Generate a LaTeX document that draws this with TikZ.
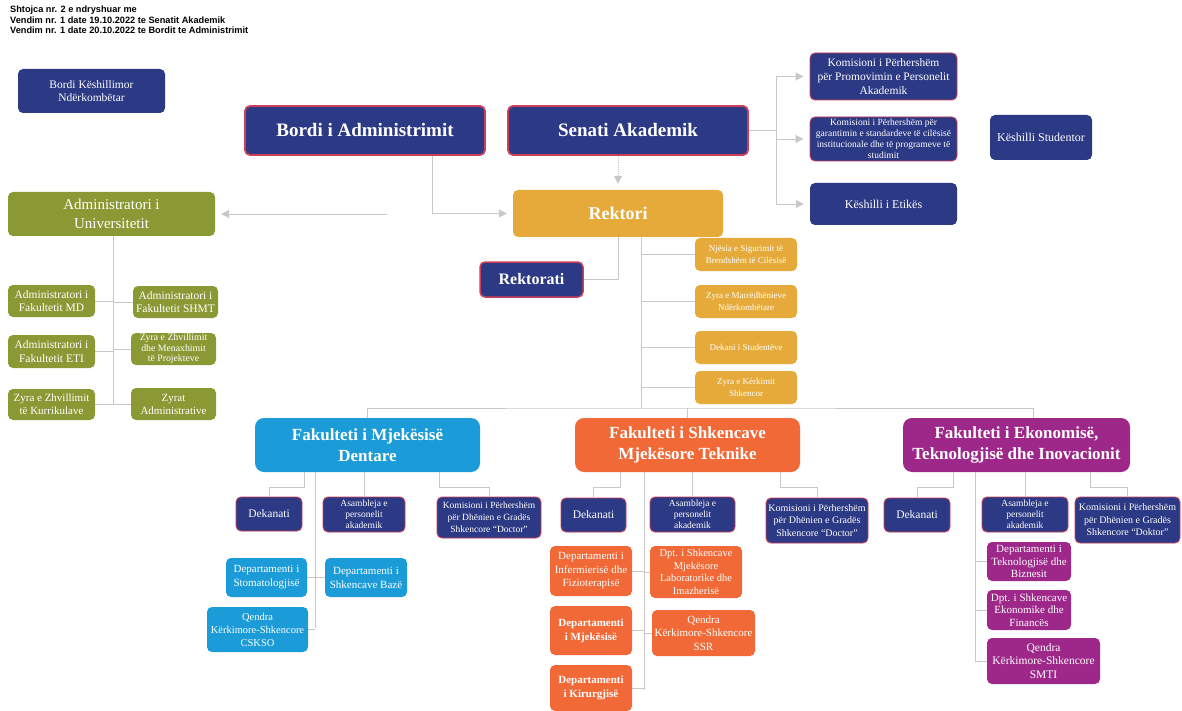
\documentclass[tikz,border=0pt]{standalone}
\usepackage{fontspec}
\setmainfont{Liberation Serif}
\newfontfamily\headfont{Liberation Sans}
\usetikzlibrary{arrows.meta}

\definecolor{navyblue}{RGB}{44,57,132}
\definecolor{borderred}{RGB}{205,62,88}
\definecolor{olivegreen}{RGB}{139,153,53}
\definecolor{rektoryellow}{RGB}{229,170,57}
\definecolor{dentblue}{RGB}{27,155,215}
\definecolor{techorange}{RGB}{240,105,55}
\definecolor{ecopurple}{RGB}{158,40,138}
\definecolor{linegray}{RGB}{200,200,200}

\newcommand{\fsz}[2]{\fontsize{#1}{#2}\selectfont}

\tikzset{
    unit/.style={rounded corners=5pt, align=center, text=white, inner sep=0pt},
    boxwh/.style 2 args={minimum width=#1pt, minimum height=#2pt},
    navybox/.style={unit, fill=navyblue},
    navyred/.style={navybox, draw=borderred, line width=0.9pt},
    topbox/.style={navybox, draw=borderred, line width=1.8pt, font=\bfseries\fsz{19}{22}},
    admbox/.style={unit, fill=olivegreen},
    rekbox/.style={unit, fill=rektoryellow},
    dentbox/.style={unit, fill=dentblue},
    techbox/.style={unit, fill=techorange},
    ecobox/.style={unit, fill=ecopurple},
    factitle/.style={rounded corners=9pt, font=\bfseries\fsz{17}{21}},
    conn/.style={draw=linegray, line width=0.9pt},
    arr/.style={conn, -{Triangle[length=8pt, width=8pt]}, shorten >=6pt}
}

\begin{document}
\begin{tikzpicture}[x=1pt, y=-1pt]
    \useasboundingbox (0,0) rectangle (1182,711);
    \fill[white] (0,0) rectangle (1182,711);

    \node[anchor=north west, align=left, inner sep=0pt, font=\headfont\bfseries\fsz{9.2}{10.2}] (header) at (10,6)
        {Shtojca nr. 2 e ndryshuar me\\Vendim nr. 1 date 19.10.2022 te Senatit Akademik\\Vendim nr. 1 date 20.10.2022 te Bordit te Administrimit};

    % governing bodies
    \node[navybox, boxwh={147}{44}, font=\fsz{11.5}{12.5}] (bke) at (91.5,91) {Bordi Këshillimor\\Ndërkombëtar};
    \node[topbox, boxwh={240}{49}] (bordi) at (365,130.5) {Bordi i Administrimit};
    \node[topbox, boxwh={240}{49}] (senati) at (628,130.5) {Senati Akademik};
    \node[navyred, boxwh={147}{47}, font=\fsz{11.5}{14}] (kom1) at (883.5,76.5) {Komisioni i Përhershëm\\për Promovimin e Personelit\\Akademik};
    \node[navyred, boxwh={147}{44}, font=\fsz{9.5}{11}] (kom2) at (883.5,139) {Komisioni i Përhershëm për\\garantimin e standardeve të cilësisë\\institucionale dhe të programeve të\\studimit};
    \node[navybox, boxwh={147}{42}, font=\fsz{12}{14}] (etika) at (883.5,204) {Këshilli i Etikës};
    \node[navybox, boxwh={102}{45}, font=\fsz{12}{14}] (studentor) at (1041,137.5) {Këshilli Studentor};

    % rector
    \node[rekbox, boxwh={210}{47}, font=\bfseries\fsz{18}{20}] (rek) at (618,213.5) {Rektori};
    \node[navybox, draw=borderred, line width=1.5pt, boxwh={103}{35}, font=\bfseries\fsz{16}{18}] (rektorati) at (531.5,279.5) {Rektorati};
    \node[rekbox, boxwh={102}{33}, font=\fsz{9}{11.5}] (nj) at (746,254.5) {Njësia e Sigurimit të\\Brendshëm të Cilësisë};
    \node[rekbox, boxwh={102}{33}, font=\fsz{9}{11.5}] (zmn) at (746,301.5) {Zyra e Marrëdhënieve\\Ndërkombëtare};
    \node[rekbox, boxwh={102}{33}, font=\fsz{9}{11.5}] (dst) at (746,347.5) {Dekani i Studentëve};
    \node[rekbox, boxwh={102}{33}, font=\fsz{9}{11.5}] (zks) at (746,387.5) {Zyra e Kërkimit\\Shkencor};

    % administrator
    \node[admbox, boxwh={207}{44}, font=\fsz{15}{19}] (adm) at (111.5,214) {Administratori i\\Universitetit};
    \node[admbox, boxwh={87}{32}, font=\fsz{11.5}{13.5}] (amd) at (51.5,301) {Administratori i\\Fakultetit MD};
    \node[admbox, boxwh={85}{32}, font=\fsz{11.5}{13.5}] (ashmt) at (175.5,302) {Administratori i\\Fakultetit SHMT};
    \node[admbox, boxwh={87}{33}, font=\fsz{11.5}{13.5}] (aeti) at (51.5,351.5) {Administratori i\\Fakultetit ETI};
    \node[admbox, boxwh={85}{32}, font=\fsz{9.8}{10.5}] (zzmp) at (173.5,349) {Zyra e Zhvillimit\\dhe Menaxhimit\\të Projekteve};
    \node[admbox, boxwh={87}{31}, font=\fsz{11}{13}] (zzk) at (51.5,404.5) {Zyra e Zhvillimit\\të Kurrikulave};
    \node[admbox, boxwh={85}{32}, font=\fsz{11}{13}] (zadm) at (173.5,404) {Zyrat\\Administrative};

    % faculties
    \node[dentbox, factitle, boxwh={225}{54}] (fmd) at (367.5,445) {Fakulteti i Mjekësisë\\Dentare};
    \node[techbox, factitle, boxwh={225}{54}] (fshmt) at (687.5,445) {Fakulteti i Shkencave\\Mjekësore Teknike};
    \node[ecobox, factitle, boxwh={227}{54}] (feti) at (1016.5,445) {Fakulteti i Ekonomisë,\\Teknologjisë dhe Inovacionit};

    \node[navyred, boxwh={66}{34}, font=\fsz{11.5}{13}] (mdDek) at (269,514) {Dekanati};
    \node[navyred, boxwh={82}{35}, font=\fsz{9.5}{11}] (mdAs) at (364,514.5) {Asambleja e\\personelit\\akademik};
    \node[navyred, boxwh={104}{41}, font=\fsz{9.5}{12}] (mdKom) at (489,517.5) {Komisioni i Përhershëm\\për Dhënien e Gradës\\Shkencore ``Doctor''};
    \node[dentbox, boxwh={81}{39}, font=\fsz{11}{14}] (mdStom) at (266.5,577.5) {Departamenti i\\Stomatologjisë};
    \node[dentbox, boxwh={82}{39}, font=\fsz{11}{14}] (mdBaze) at (366,577.5) {Departamenti i\\Shkencave Bazë};
    \node[dentbox, boxwh={101}{45}, font=\fsz{10.5}{13}] (mdQ) at (257.5,629.5) {Qendra\\Kërkimore-Shkencore\\CSKSO};

    \node[navyred, boxwh={65}{34}, font=\fsz{11.5}{13}] (shDek) at (593.5,515) {Dekanati};
    \node[navyred, boxwh={85}{35}, font=\fsz{9.5}{11}] (shAs) at (692.5,514.5) {Asambleja e\\personelit\\akademik};
    \node[navyred, boxwh={102}{45}, font=\fsz{10}{12.5}] (shKom) at (817,520.5) {Komisioni i Përhershëm\\për Dhënien e Gradës\\Shkencore ``Doctor''};
    \node[techbox, boxwh={82}{50}, font=\fsz{11}{13.5}] (shInf) at (591,571) {Departamenti i\\Infermierisë dhe\\Fizioterapisë};
    \node[techbox, boxwh={92}{52}, font=\fsz{10.5}{12.5}] (shLab) at (696,572) {Dpt. i Shkencave\\Mjekësore\\Laboratorike dhe\\Imazherisë};
    \node[techbox, boxwh={82}{49}, font=\bfseries\fsz{11}{14}] (shMj) at (591,630.5) {Departamenti\\i Mjekësisë};
    \node[techbox, boxwh={103}{46}, font=\fsz{11}{13.5}] (shQ) at (703.5,633) {Qendra\\Kërkimore-Shkencore\\SSR};
    \node[techbox, boxwh={82}{46}, font=\bfseries\fsz{11}{14}] (shKir) at (591,688) {Departamenti\\i Kirurgjisë};

    \node[navyred, boxwh={66}{34}, font=\fsz{11.5}{13}] (etDek) at (917,515) {Dekanati};
    \node[navyred, boxwh={86}{35}, font=\fsz{9.5}{11}] (etAs) at (1025,514.5) {Asambleja e\\personelit\\akademik};
    \node[navyred, boxwh={105}{46}, font=\fsz{10}{12.5}] (etKom) at (1127.5,520) {Komisioni i Përhershëm\\për Dhënien e Gradës\\Shkencore ``Doktor''};
    \node[ecobox, boxwh={84}{39}, font=\fsz{11}{12.5}] (etTek) at (1029,561.5) {Departamenti i\\Teknologjisë dhe\\Biznesit};
    \node[ecobox, boxwh={84}{40}, font=\fsz{11}{12.5}] (etEk) at (1029,610) {Dpt. i Shkencave\\Ekonomike dhe\\Financës};
    \node[ecobox, boxwh={113}{46}, font=\fsz{11.5}{13.5}] (etQ) at (1043.5,661) {Qendra\\Kërkimore-Shkencore\\SMTI};

    % connectors
    \draw[arr] ([xshift=67pt]bordi.south) |- (rek.west);
    \coordinate (admsrc) at (387,214);
    \draw[arr] (admsrc) -- (adm.east);
    \draw[arr, densely dotted] (senati.south -| rek.north) -- (rek.north);
    \coordinate (senbus) at (776,0);
    \draw[conn] (senati.east) -- (senati.east -| senbus);
    \draw[conn] (senbus |- kom1.west) -- (senbus |- etika.west);
    \foreach \k in {kom1,kom2,etika}
        \draw[arr] (senbus |- \k.west) -- (\k.west);

    \draw[conn] (rek.south) |- (rektorati.east);
    \coordinate (bus) at (641,408);
    \draw[conn] (rek.south -| bus) -- (bus);
    \foreach \k in {nj,zmn,dst,zks}
        \draw[conn] (\k.west) -- (\k.west -| bus);
    \draw[conn] (fmd.north) |- (bus) -| ([xshift=17pt]feti.north);
    \draw[conn] (fshmt.north) -- (fshmt.north |- bus);

    \coordinate (admtrunk) at (113,405);
    \draw[conn] (adm.south -| admtrunk) -- (admtrunk);
    \foreach \k in {amd,aeti,zzk}
        \draw[conn] (\k.east) -- (\k.east -| admtrunk);
    \foreach \k in {ashmt,zzmp,zadm}
        \draw[conn] (\k.west) -- (\k.west -| admtrunk);

    \draw[conn] ([xshift=-63pt]fmd.south) |- ([yshift=9pt]mdDek.north) -- (mdDek.north);
    \draw[conn] (mdAs.north |- fmd.south) -- (mdAs.north);
    \draw[conn] ([xshift=72pt]fmd.south) |- ([yshift=9pt]mdKom.north) -- (mdKom.north);
    \coordinate (mdtrunk) at (315,628);
    \draw[conn] (fmd.south -| mdtrunk) -- (mdtrunk);
    \foreach \k in {mdStom,mdQ}
        \draw[conn] (\k.east) -- (\k.east -| mdtrunk);
    \draw[conn] (mdBaze.west) -- (mdBaze.west -| mdtrunk);

    \draw[conn] ([xshift=-67.5pt]fshmt.south) |- ([yshift=10pt]shDek.north) -- (shDek.north);
    \draw[conn] (shAs.north |- fshmt.south) -- (shAs.north);
    \draw[conn] ([xshift=92.5pt]fshmt.south) |- ([yshift=10pt]shKom.north) -- (shKom.north);
    \coordinate (shtrunk) at (644,690);
    \draw[conn] (fshmt.south -| shtrunk) -- (shtrunk);
    \foreach \k in {shInf,shMj,shKir}
        \draw[conn] (\k.east) -- (\k.east -| shtrunk);
    \foreach \k in {shLab,shQ}
        \draw[conn] (\k.west) -- (\k.west -| shtrunk);

    \draw[conn] ([xshift=-63.5pt]feti.south) |- ([yshift=10pt]etDek.north) -- (etDek.north);
    \draw[conn] (etAs.north |- feti.south) -- (etAs.north);
    \draw[conn] ([xshift=73.5pt]feti.south) |- ([yshift=9pt]etKom.north) -- (etKom.north);
    \coordinate (ettrunk) at (975,661);
    \draw[conn] (feti.south -| ettrunk) -- (ettrunk);
    \foreach \k in {etTek,etEk,etQ}
        \draw[conn] (\k.west) -- (\k.west -| ettrunk);
\end{tikzpicture}
\end{document}
